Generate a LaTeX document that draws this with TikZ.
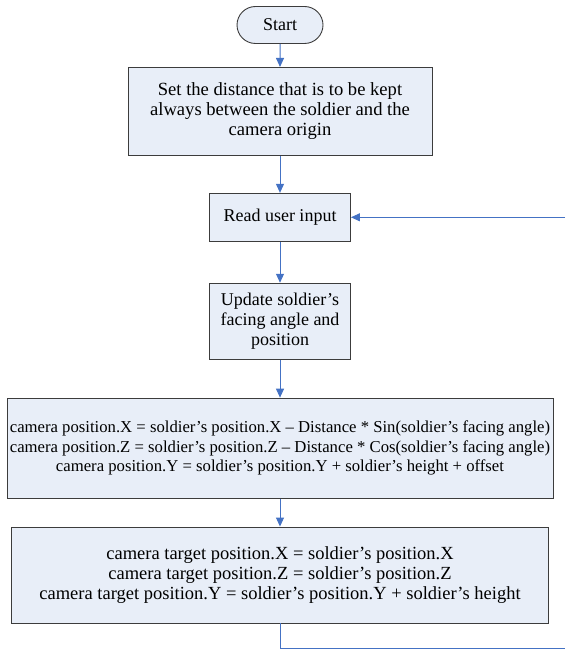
\documentclass[tikz,border=0pt]{standalone}
\usepackage{fontspec}
\setmainfont{Liberation Serif}
\usetikzlibrary{arrows.meta, positioning, shapes.misc}
\definecolor{boxfill}{RGB}{232,238,248}
\definecolor{boxline}{RGB}{60,60,60}
\definecolor{flowblue}{RGB}{68,114,196}

\begin{document}
\begin{tikzpicture}[
        x=1pt, y=1pt,
        node distance=24pt,
        block/.style={rectangle, draw=boxline, fill=boxfill, line width=0.9pt, align=center, inner sep=2pt,
          font=\fontsize{18}{20}\selectfont},
        terminal/.style={block, rounded rectangle},
        line/.style={draw=flowblue, line width=1pt, -{Triangle[length=9pt, width=8pt]}}
        ]
        \useasboundingbox (0,0) rectangle (565,-652);
        \node[terminal, minimum width=90pt, minimum height=37pt] (start) at (280,-25) {Start};
        \node[block, below=23pt of start, minimum width=304pt, minimum height=88pt,
          font=\fontsize{18.6}{20}\selectfont] (setdist)
          {Set the distance that is to be kept\\always between the soldier and the\\camera origin};
        \node[block, below=37pt of setdist, minimum width=141pt, minimum height=48pt] (readinput) {Read user input};
        \node[block, below=41pt of readinput, minimum width=141pt, minimum height=76pt] (update)
          {Update soldier’s\\facing angle and\\position};
        \node[block, below=38pt of update, minimum width=546pt, minimum height=100pt,
          font=\fontsize{16.7}{19.5}\selectfont] (campos)
          {camera position.X = soldier’s position.X – Distance * Sin(soldier’s facing angle)\\
           camera position.Z = soldier’s position.Z – Distance * Cos(soldier’s facing angle)\\
           camera position.Y = soldier’s position.Y + soldier’s height + offset};
        \node[block, below=28pt of campos, minimum width=537pt, minimum height=96pt,
          font=\fontsize{18.5}{20}\selectfont] (camtarget)
          {camera target position.X = soldier’s position.X\\
           camera target position.Z = soldier’s position.Z\\
           camera target position.Y = soldier’s position.Y + soldier’s height};

        % loop back to user input (cut at the right edge)
        \coordinate (rightedge) at (565,0);
        \coordinate[below=25pt of camtarget.south] (turn);

        \path[line] (start) -- (setdist);
        \path[line] (setdist) -- (readinput);
        \path[line] (readinput) -- (update);
        \path[line] (update) -- (campos);
        \path[line] (campos) -- (camtarget);
        \draw[flowblue, line width=1pt] (camtarget.south) -- (turn) -- (turn -| rightedge);
        \path[line] (readinput.east -| rightedge) -- (readinput.east);
      \end{tikzpicture}
\end{document}
